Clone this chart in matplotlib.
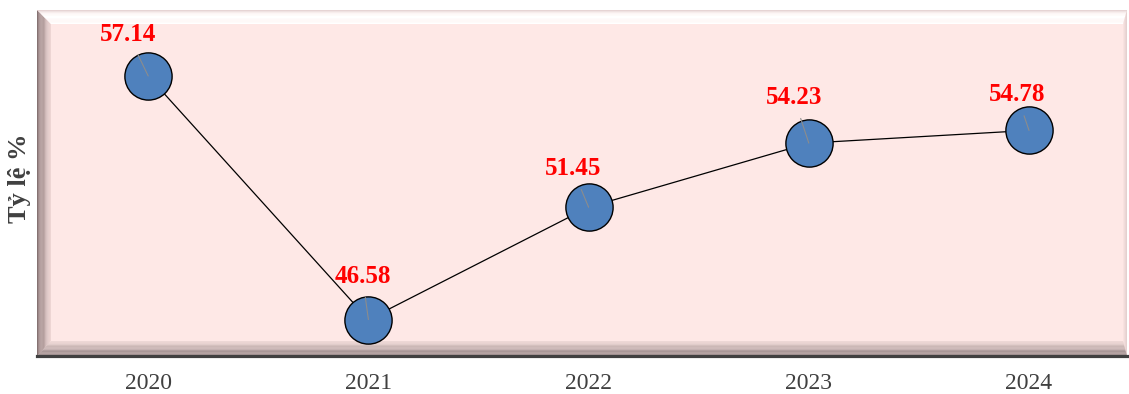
import matplotlib.pyplot as plt
from matplotlib.patches import Polygon
import numpy as np
from matplotlib.colors import to_rgb

# data
years = ['2020', '2021', '2022', '2023', '2024']
rates = [57.14, 46.58, 51.45, 54.23, 54.78]

# label placement (pixels: dx, dy to baseline), style only
label_offsets = [(-20, 35), (-6, 37), (-16, 32), (-15, 39), (-12, 29)]

plt.rcParams['font.family'] = ['Liberation Serif', 'DejaVu Serif']

W, H = 1090, 346
fig = plt.figure(figsize=(11.29, 3.94), dpi=100)
ax = fig.add_axes([37 / 1129, 38 / 394, W / 1129, H / 394])
ax.set_facecolor('#fee8e6')


def mix(c1, c2, t):
    a, b = np.array(to_rgb(c1)), np.array(to_rgb(c2))
    return tuple(a + (b - a) * t)


# bevel frame around the plot area (widths in pixels)
wl, wt, wr, wb = 14, 14, 4, 15
n = 12
for k in range(n):
    t0, t1 = k / n, (k + 1) / n
    o = (t0 * wl, t0 * wb, W - t0 * wr, H - t0 * wt)
    i = (t1 * wl, t1 * wb, W - t1 * wr, H - t1 * wt)
    sides = {
        'left': [(o[0], o[1]), (i[0], i[1]), (i[0], i[3]), (o[0], o[3])],
        'top': [(o[0], o[3]), (i[0], i[3]), (i[2], i[3]), (o[2], o[3])],
        'right': [(o[2], o[1]), (i[2], i[1]), (i[2], i[3]), (o[2], o[3])],
        'bottom': [(o[0], o[1]), (i[0], i[1]), (i[2], i[1]), (o[2], o[1])],
    }
    cols = {
        'left': mix('#857272', '#f6dedc', t0),
        'top': mix('#e6d4d4', '#ffffff', min(1, t0 * 4)),
        'right': mix('#d8c4c4', '#fbe6e4', t0),
        'bottom': mix('#8f7f7f', '#f6e0de', t0),
    }
    for s, pts in sides.items():
        pts = [(x / W, y / H) for x, y in pts]
        ax.add_patch(Polygon(pts, closed=True, transform=ax.transAxes,
                             facecolor=cols[s], edgecolor='none', zorder=1))

ax.plot(range(len(years)), rates, color='black', lw=0.9, marker='o',
        ms=34, mfc='#4f81bd', mec='black', mew=1, zorder=3)

for i, v in enumerate(rates):
    dx, dy = label_offsets[i]
    ax.annotate(f'{v:.2f}', xy=(i, v), xytext=(dx * 0.72, dy * 0.72),
                textcoords='offset points', ha='center', va='baseline',
                fontsize=18, fontweight='bold', color='red',
                arrowprops=dict(arrowstyle='-', color='#8c8c8c', lw=0.8,
                                shrinkA=5, shrinkB=0), zorder=4)

ax.set_xlim(-0.505, 4.445)
ax.set_ylim(45, 60)
ax.set_xticks(range(len(years)))
ax.set_xticklabels(years, fontsize=17, color='#404040')
ax.set_yticks([])
ax.tick_params(axis='x', length=0, pad=12)
for s in ['left', 'right', 'top']:
    ax.spines[s].set_visible(False)
ax.spines['bottom'].set_color('#404040')
ax.spines['bottom'].set_linewidth(2.3)
ax.spines['bottom'].set_zorder(5)

fig.text(20 / 1129, 1 - 178 / 394, 'Tỷ lệ %', rotation=90, ha='center',
         va='center', fontsize=19, fontweight='bold', color='#404040')

fig.savefig('out.png', dpi=100)
